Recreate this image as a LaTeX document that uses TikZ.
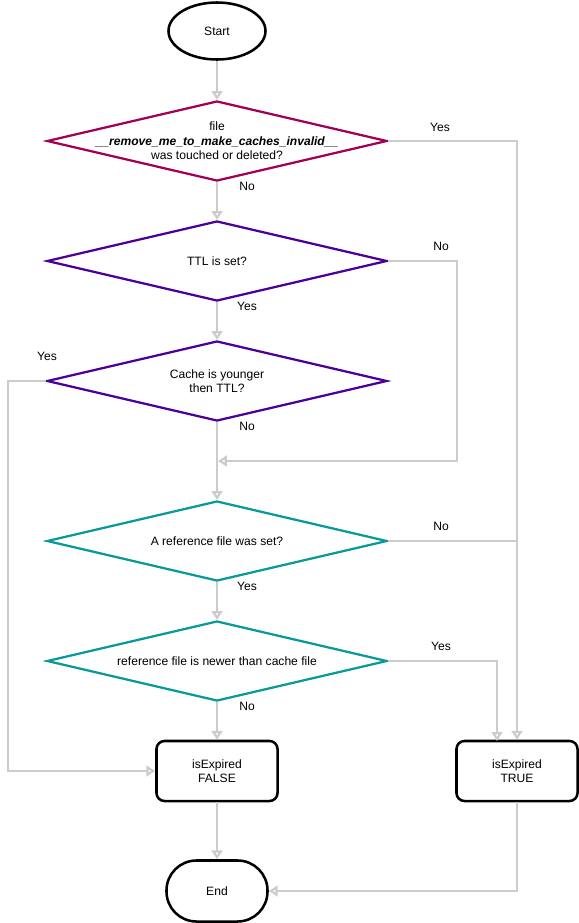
\documentclass[tikz,border=0pt]{standalone}
\usepackage{fontspec}
\setmainfont{Liberation Sans}
\usetikzlibrary{positioning,shapes,arrows.meta}

\definecolor{crimson}{HTML}{A20055}
\definecolor{violet}{HTML}{4C0099}
\definecolor{teal}{HTML}{0A9999}
\definecolor{linegray}{HTML}{CCCCCC}

\tikzset{
  dec/.style={diamond, draw, line width=1.6pt, minimum width=8.5cm, minimum height=2cm, inner sep=0pt},
  term/.style={ellipse, draw, line width=1.8pt, minimum width=2.425cm, minimum height=1.425cm},
  stopbox/.style={rectangle, draw, line width=1.8pt, rounded corners=0.75cm, minimum width=2.525cm, minimum height=1.525cm},
  res/.style={rectangle, draw, line width=1.8pt, rounded corners=0.2cm, minimum width=3.025cm, minimum height=1.5cm, align=center},
  con/.style={draw=linegray, line width=1.6pt},
  arr/.style={con, -{Triangle[open, length=0.22cm, width=0.27cm]}},
  lbl/.style={inner sep=0pt}
}

\begin{document}
\begin{tikzpicture}[x=0.025cm, y=-0.025cm,
  every node/.style={font=\fontsize{8.6}{10.4}\selectfont},
  every label/.style={align=center}]
\useasboundingbox (0,0) rectangle (579,923);

\node[term] (s) at (217,31) {Start};
\node[dec, draw=crimson, label={center:file\\\textbf{\textit{\_\_remove\_me\_to\_make\_caches\_invalid\_\_}}\\was touched or deleted?}] (d1) at (217,141) {};
\node[dec, draw=violet, label={center:TTL is set?}] (d2) at (217,261) {};
\node[dec, draw=violet, label={center:Cache is younger\\then TTL?}] (d3) at (217,381) {};
\node[dec, draw=teal, label={center:A reference file was set?}] (d4) at (217,541) {};
\node[dec, draw=teal, label={center:reference file is newer than cache file}] (d5) at (217,661) {};
\node[res] (f) at (217,771) {isExpired\\FALSE};
\node[res] (t) at (517,771) {isExpired\\TRUE};
\node[stopbox] (e) at (217,891) {End};

\coordinate (m2) at (457,461);
\coordinate (j3) at (218,461);
\coordinate (l3) at (8,381);
\coordinate (j4) at (517,541);
\coordinate (t5) at (497,741);

\draw[arr] (s) -- (d1);
\draw[arr] (d1.east) -| (t.north);
\draw[arr] (d1) -- (d2);
\draw[arr] (d2.east) -| (m2) -- (j3);
\draw[arr] (d2) -- (d3);
\draw[arr] (d3.west) -- (l3) |- (f.west);
\draw[arr] (d3) -- (d4);
\draw[con] (d4.east) -- (j4);
\draw[arr] (d4) -- (d5);
\draw[arr] (d5.east) -| (t5);
\draw[arr] (d5) -- (f);
\draw[arr] (f) -- (e);
\draw[arr] (t.south) |- (e.east);

\node[lbl] (y1) at (440,127) {Yes};
\node[lbl] (n1) at (247,186) {No};
\node[lbl] (n2) at (441,246) {No};
\node[lbl] (y2) at (247,306) {Yes};
\node[lbl] (y3) at (47,356) {Yes};
\node[lbl] (n3) at (247,426) {No};
\node[lbl] (n4) at (441,526) {No};
\node[lbl] (y4) at (247,586) {Yes};
\node[lbl] (y5) at (441,646) {Yes};
\node[lbl] (n5) at (247,706) {No};
\end{tikzpicture}
\end{document}
